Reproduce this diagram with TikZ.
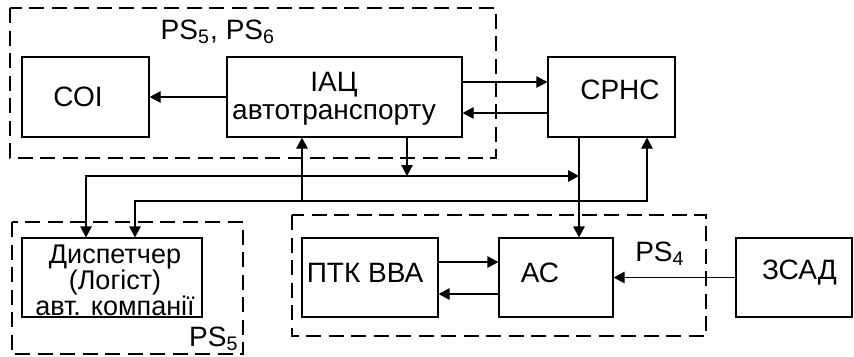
\documentclass[tikz,border=0pt]{standalone}
\usepackage{fontspec}
\setmainfont{Liberation Sans}
\usetikzlibrary{arrows.meta,positioning,calc}
\tikzset{every picture/.style={line width=0.5pt}}
\newcommand{\px}{0.4pt}

\begin{document}
\begin{tikzpicture}[x=\px,y=-\px,
    font=\fontsize{11.2}{11.2}\selectfont,
    block/.style={draw,minimum height=80*\px,inner sep=0pt},
    zone/.style={draw,dash pattern=on 6pt off 3pt},
    arr/.style={-{Triangle[length=4.4pt,width=4.6pt]}}]
    \useasboundingbox (0,0) rectangle (854,356);

    % dashed zones
    \draw[zone] (10,8) rectangle (496,158);
    \draw[zone] (12,222) rectangle (243,354);
    \draw[zone] (292,215) rectangle (706,336);
    \node (ps56) at (218,32) {PS\textsubscript{5}, PS\textsubscript{6}};
    \node (ps5) at (214,339) {PS\textsubscript{5}};
    \node (ps4) at (660,254) {PS\textsubscript{4}};

    % blocks
    \node[block,minimum width=127*\px,label={[xshift=-3pt]center:СОІ}] (soi) at (85.5,97) {};
    \node[block,minimum width=235*\px,label={[xshift=-4.2pt,yshift=-0.8pt,align=center]center:ІАЦ\\автотранспорту}] (iac) at (344.5,97) {};
    \node[block,minimum width=127*\px,label={[xshift=3.4pt,yshift=3pt]center:СРНС}] (srnc) at (611.5,97) {};
    \node[block,minimum width=180*\px,minimum height=79*\px,label={[xshift=1.2pt,yshift=-1.2pt,align=center,font=\fontsize{10.8}{10.4}\selectfont]center:Диспетчер\\(Логіст)\\авт. компанії}] (dsp) at (112,277.5) {};
    \node[block,minimum width=136*\px,minimum height=79*\px,label={[xshift=-2pt,yshift=1.8pt]center:ПТК ВВА}] (ptk) at (370,277.5) {};
    \node[block,minimum width=114*\px,minimum height=79*\px,label={[xshift=-6.4pt,yshift=1.8pt]center:АС}] (ac) at (556,277.5) {};
    \node[block,minimum width=116*\px,minimum height=79*\px,label={[xshift=2.2pt,yshift=1.8pt]center:ЗСАД}] (zsad) at (794,277.5) {};

    % junctions of the two buses
    \coordinate (j1) at (407,176);
    \coordinate (j2) at (302,201);
    \coordinate (acin) at ($(ac.north)+(23,0)$);

    % links
    \draw[arr] (iac) -- (soi);
    \draw[arr] ($(iac.east)+(0,-15)$) -- ($(srnc.west)+(0,-15)$);
    \draw[arr] ($(srnc.west)+(0,16)$) -- ($(iac.east)+(0,16)$);
    \draw[arr] (iac.south -| j1) -- (j1);
    \draw[arr] (j1) -| ($(dsp.north)+(-26,0)$);
    \draw[arr] (j1) -- (j1 -| acin);
    \draw[arr] (srnc.south -| acin) -- (acin);
    \draw[arr] (j2) -- (iac.south -| j2);
    \draw[arr] (j2) -| ($(dsp.north)+(23,0)$);
    \draw[arr] (j2) -| ($(srnc.south)+(35.5,0)$);
    \draw[arr] ($(ptk.east)+(0,-15.5)$) -- ($(ac.west)+(0,-15.5)$);
    \draw[arr] ($(ac.west)+(0,16.5)$) -- ($(ptk.east)+(0,16.5)$);
    \draw[arr] (zsad) -- (ac);
\end{tikzpicture}
\end{document}
